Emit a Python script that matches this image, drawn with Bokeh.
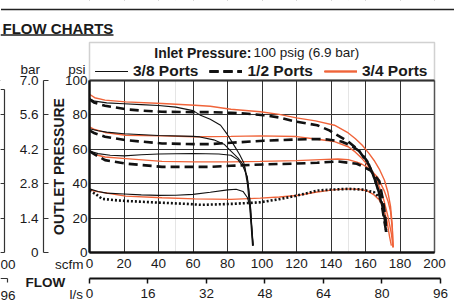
from bokeh.plotting import figure
from bokeh.models import (Range1d, LinearAxis, FixedTicker, Label, BoxAnnotation, Grid,
                          Legend, LegendItem, CustomJSTickFormatter)
from bokeh.embed import file_html
from bokeh.resources import INLINE

# ---------------- data ----------------
scfm_ticks = [0, 20, 40, 60, 80, 100, 120, 140, 160, 180, 200]
psi_ticks = [0, 20, 40, 60, 80, 100]
bar_ticks = [0, 1.4, 2.8, 4.2, 5.6, 7.0]
ls_ticks = [0, 16, 32, 48, 64, 80, 96]
SCFM_TO_LS = 0.4719
BAR_PER_PSI = 7.0 / 100   # bar scale as drawn beside the psi scale

# 3/8 Ports (thin black)
p38_a_x = [0, 3, 10, 20, 30, 40, 50, 60, 64, 70, 76, 80, 84, 87, 89.5, 91.5, 93, 94.5]
p38_a_y = [89.5, 88, 87, 86.5, 86, 85.5, 84.5, 82.5, 80, 77.5, 74, 68.5, 62, 57, 52, 40, 25, 4]
p38_b_x = [0, 5, 10, 20, 40, 60, 64, 72, 78, 82, 86, 90, 92, 93.5, 94.7]
p38_b_y = [72, 70.8, 70, 69, 68, 67.5, 67.2, 65.5, 63, 59, 55, 50, 40, 25, 4]
p38_c_x = [0, 5, 12, 20, 30, 40, 60, 75, 82, 86, 89, 91.5, 93, 94.8]
p38_c_y = [59, 57.5, 56.5, 56.2, 56.8, 57.3, 57.6, 57.3, 56.5, 54, 50, 44, 30, 4]
p38_d_x = [0, 5, 10, 20, 30, 40, 50, 60, 70, 80, 85, 89, 91.5, 93, 94, 95]
p38_d_y = [37, 35.5, 34.5, 34, 33.5, 33.2, 33.3, 33.8, 35, 36.4, 36.8, 35.5, 32, 27, 15, 4]

# 1/2 Ports (thick dashed black, lowest curve dotted)
p12_a_x = [0, 3, 9, 21, 30, 42, 61, 70, 82, 90, 101, 110, 120, 132, 139, 150, 156, 162, 166, 169, 171, 172]
p12_a_y = [89, 87, 85.3, 83.3, 82.5, 81.8, 81.6, 81.6, 81.2, 80.8, 79.8, 78.5, 76, 74, 71, 64.5, 59.5, 51, 41, 31, 21, 12]
p12_b_x = [0, 3, 9, 21, 42, 61, 70, 82, 101, 120, 132, 138, 146, 152, 157, 161, 164.5, 167.5, 169.7, 171, 172]
p12_b_y = [71, 69.3, 67.3, 65.3, 63.4, 63, 63, 63.8, 65, 65.7, 66, 65.7, 64.5, 62, 58.5, 53, 45, 36, 26, 18, 12]
p12_c_x = [0, 2, 9, 21, 42, 61, 70, 82, 101, 120, 132, 144, 155, 163, 168, 170, 171.5, 172]
p12_c_y = [59, 57.6, 53.7, 51.7, 49.8, 49.8, 49.8, 50.4, 51.2, 51.7, 52.2, 52.9, 51.6, 47.7, 41.5, 31, 21, 12]
p12_d_x = [0, 3.5, 7.3, 17, 36, 55.6, 65, 83.6, 99, 110, 120.4, 132, 141, 150.3, 158, 165, 169]
p12_d_y = [36, 34, 31.2, 30.2, 29.2, 28.3, 27.7, 28.3, 29.2, 31, 33.1, 36, 36.6, 37, 36.6, 35, 31]

# 3/4 Ports (thin orange)
p34_a_x = [0, 3, 9, 21, 42, 61, 70, 82, 99, 110, 120, 131, 142, 150, 154, 158, 162, 165, 168, 171, 173, 174.5, 175.5, 176]
p34_a_y = [92, 90, 88.6, 87.6, 86.6, 85.6, 85, 83.3, 81.8, 80.3, 78.3, 76.5, 74, 69.5, 66.3, 62.5, 57.6, 53.5, 48.5, 42, 35, 27, 16, 3]
p34_b_x = [0, 3, 9, 21, 42, 61, 82, 99, 120, 131, 142, 150, 154, 158, 163, 167, 170.5, 173, 175, 176]
p34_b_y = [73, 71.5, 69.8, 68.2, 67.8, 67.3, 67.5, 67.8, 67.4, 66, 64.5, 61.5, 58.5, 54.6, 48.8, 41, 31, 21, 11, 3]
p34_c_x = [0, 3, 9, 21, 42, 61, 82, 99, 120, 134, 144, 150, 155, 158, 161, 164, 167, 170.8, 173, 174.5, 175.5, 176]
p34_c_y = [59, 57, 55.5, 54.6, 53, 52.7, 52.7, 53, 53.4, 54, 54.4, 54, 52.5, 51.3, 49.6, 47, 43.8, 36, 30, 24, 14, 3]
p34_d_x = [0, 3, 9, 21, 42, 61, 82, 99, 110, 120, 131, 141, 150, 157, 161, 165, 168, 170.5, 172.5, 174, 175]
p34_d_y = [36.6, 35.7, 34.7, 32.8, 31.8, 31.2, 30.9, 31.6, 32.3, 33.1, 35, 36.4, 37, 36.6, 35.8, 33.5, 30.5, 26, 18, 9, 4]

# ---------------- layout constants ----------------
W, H = 454, 303
FL, FB = 89, 252          # page px of scfm=0 and psi=0
PXX = 1.725               # px per scfm
PXY = 1.72                # px per psi
FONT = "Liberation Sans"
TXT = "#1a1a1a"
ORANGE = "#F0643A"


def ox(px):
    return (px - FL) / PXX


def oy(py):
    return (FB - py) / PXY


X0, X1 = ox(0), ox(W)
Y0, Y1 = oy(H), oy(0)

p = figure(width=W, height=H, x_range=Range1d(X0, X1), y_range=Range1d(Y0, Y1),
           output_backend="svg", toolbar_location=None, title=None,
           x_axis_location=None, y_axis_location=None, min_border=0)
p.outline_line_color = None
p.extra_x_ranges = {"ls": Range1d(X0 * SCFM_TO_LS, X1 * SCFM_TO_LS)}
p.extra_y_ranges = {"bar": Range1d(Y0 * BAR_PER_PSI, Y1 * BAR_PER_PSI)}

# grid, limited to the plot area by white masks underneath everything else
p.add_layout(Grid(dimension=0, ticker=FixedTicker(ticks=scfm_ticks),
                  grid_line_color="#333333", grid_line_width=1.0))
p.add_layout(Grid(dimension=1, ticker=FixedTicker(ticks=psi_ticks),
                  grid_line_color="#333333", grid_line_width=1.0))
for kw in (dict(bottom=100), dict(top=0), dict(right=0), dict(left=200)):
    p.add_layout(BoxAnnotation(fill_color="white", fill_alpha=1.0, line_color=None,
                               level="underlay", **kw))

# axes (library axes at fixed positions)
common = dict(major_label_text_font=FONT, major_label_text_font_size="13.5px",
              major_label_text_color=TXT, minor_tick_line_color=None)
xa = LinearAxis(fixed_location=0, bounds=(0, 200), ticker=FixedTicker(ticks=scfm_ticks),
                axis_line_width=2, axis_line_color="#111111", major_tick_in=0,
                major_tick_out=0, major_label_standoff=6, **common)
p.add_layout(xa, "below")
ls_axis = LinearAxis(x_range_name="ls", fixed_location=oy(278), bounds=(0, 96),
                     ticker=FixedTicker(ticks=ls_ticks), axis_line_width=2,
                     axis_line_color="#111111", major_tick_in=0, major_tick_out=5,
                     major_tick_line_width=1.5, major_tick_line_color="#111111",
                     major_label_standoff=5, **common)
p.add_layout(ls_axis, "below")
ya = LinearAxis(fixed_location=0, bounds=(0, 100), ticker=FixedTicker(ticks=psi_ticks),
                axis_line_width=2, axis_line_color="#111111", major_tick_in=0,
                major_tick_out=0, major_label_standoff=2,
                axis_label="OUTLET PRESSURE", axis_label_text_font=FONT,
                axis_label_text_font_style="bold", axis_label_text_font_size="14px",
                axis_label_text_color=TXT, axis_label_standoff=-5, **common)
p.add_layout(ya, "left")
bar_axis = LinearAxis(y_range_name="bar", fixed_location=ox(43), bounds=(0, 7.0),
                      ticker=FixedTicker(ticks=bar_ticks),
                      formatter=CustomJSTickFormatter(code="return tick === 0 ? '0' : tick.toFixed(1);"),
                      axis_line_width=1.2, axis_line_color="#333333",
                      major_tick_in=5, major_tick_out=0, major_tick_line_color="#333333",
                      major_label_standoff=5, **common)
p.add_layout(bar_axis, "left")

# curves
r34 = [p.line(xs, ys, line_color=ORANGE, line_width=1.4)
       for xs, ys in ((p34_a_x, p34_a_y), (p34_b_x, p34_b_y), (p34_c_x, p34_c_y), (p34_d_x, p34_d_y))]
rdot = p.line(p12_d_x, p12_d_y, line_color="#111111", line_width=2.6, line_dash="2 2")
r12 = [p.line(xs, ys, line_color="#111111", line_width=2.6, line_dash="9 5")
       for xs, ys in ((p12_a_x, p12_a_y), (p12_b_x, p12_b_y), (p12_c_x, p12_c_y))]
r38 = [p.line(xs, ys, line_color="#111111", line_width=1.1)
       for xs, ys in ((p38_a_x, p38_a_y), (p38_b_x, p38_b_y), (p38_c_x, p38_c_y), (p38_d_x, p38_d_y))]

# legend box and plot frame (right side lighter, as in the original)
p.add_layout(BoxAnnotation(left=0, right=200, bottom=100, top=oy(42), fill_color=None,
                           line_color="#666666", line_width=1.5))
p.segment(x0=[200], y0=[0], x1=[200], y1=[100], line_color="#555555", line_width=1.5)
p.segment(x0=[0, 0, 0], y0=[0, 100, 0], x1=[200, 200, 0], y1=[0, 100, 100],
          line_color="#1a1a1a", line_width=2)

legend = Legend(items=[LegendItem(label="3/8 Ports", renderers=r38),
                       LegendItem(label="1/2 Ports", renderers=r12),
                       LegendItem(label="3/4 Ports", renderers=r34)],
                orientation="horizontal", location=(95, H - 80),
                glyph_width=33, glyph_height=18, label_height=18, label_standoff=5,
                spacing=11, padding=0, margin=0, border_line_color=None,
                background_fill_alpha=0, label_text_font=FONT,
                label_text_font_style="bold", label_text_font_size="15.5px",
                label_text_color=TXT)
p.add_layout(legend)

# page furniture: top rule, heading underline, edge of the neighbouring chart
p.segment(x0=[ox(0.5)], y0=[oy(9)], x1=[ox(453.5)], y1=[oy(9)],
          line_color="#222222", line_width=1.5)
p.segment(x0=[ox(0)], y0=[oy(34.5)], x1=[ox(113)], y1=[oy(34.5)], line_color="#1a1a1a", line_width=1.5)
edge_y = [89, 114, 149, 183, 218, 252]
p.segment(x0=[ox(4)], y0=[oy(89)], x1=[ox(4)], y1=[oy(252)], line_color="#333333", line_width=1.2)
p.segment(x0=[ox(0)] * len(edge_y), y0=[oy(v) for v in edge_y],
          x1=[ox(4)] * len(edge_y), y1=[oy(v) for v in edge_y],
          line_color="#333333", line_width=1.2)
p.segment(x0=[ox(0), ox(7)], y0=[oy(278), oy(278)], x1=[ox(7), ox(7)], y1=[oy(278), oy(282)],
          line_color="#333333", line_width=1.2)

SHIFT = 5   # rendered alphabetic baseline sits about this many px low


def lab(text, px, py, size="13.5px", style="normal", align="left"):
    p.add_layout(Label(x=ox(px), y=oy(py - SHIFT), x_units="data", y_units="data", text=text,
                       text_font=FONT, text_font_size=size, text_font_style=style,
                       text_align=align, text_baseline="alphabetic", text_color=TXT))


lab("FLOW CHARTS", 2, 33, size="15px", style="bold")
lab("Inlet Pressure:", 251, 57, size="14px", style="bold", align="right")
lab("100 psig (6.9 bar)", 253, 57)
lab("psi", 85, 74, align="right")
lab("bar", 39.5, 74, align="right")
lab("scfm", 83, 268.5, align="right")
lab("FLOW", 25, 287, style="bold")
lab("l/s", 82.5, 299, align="right")
lab("00", 0, 269)
lab("96", 0, 300)

open("out.html", "w").write(file_html(p, INLINE))
